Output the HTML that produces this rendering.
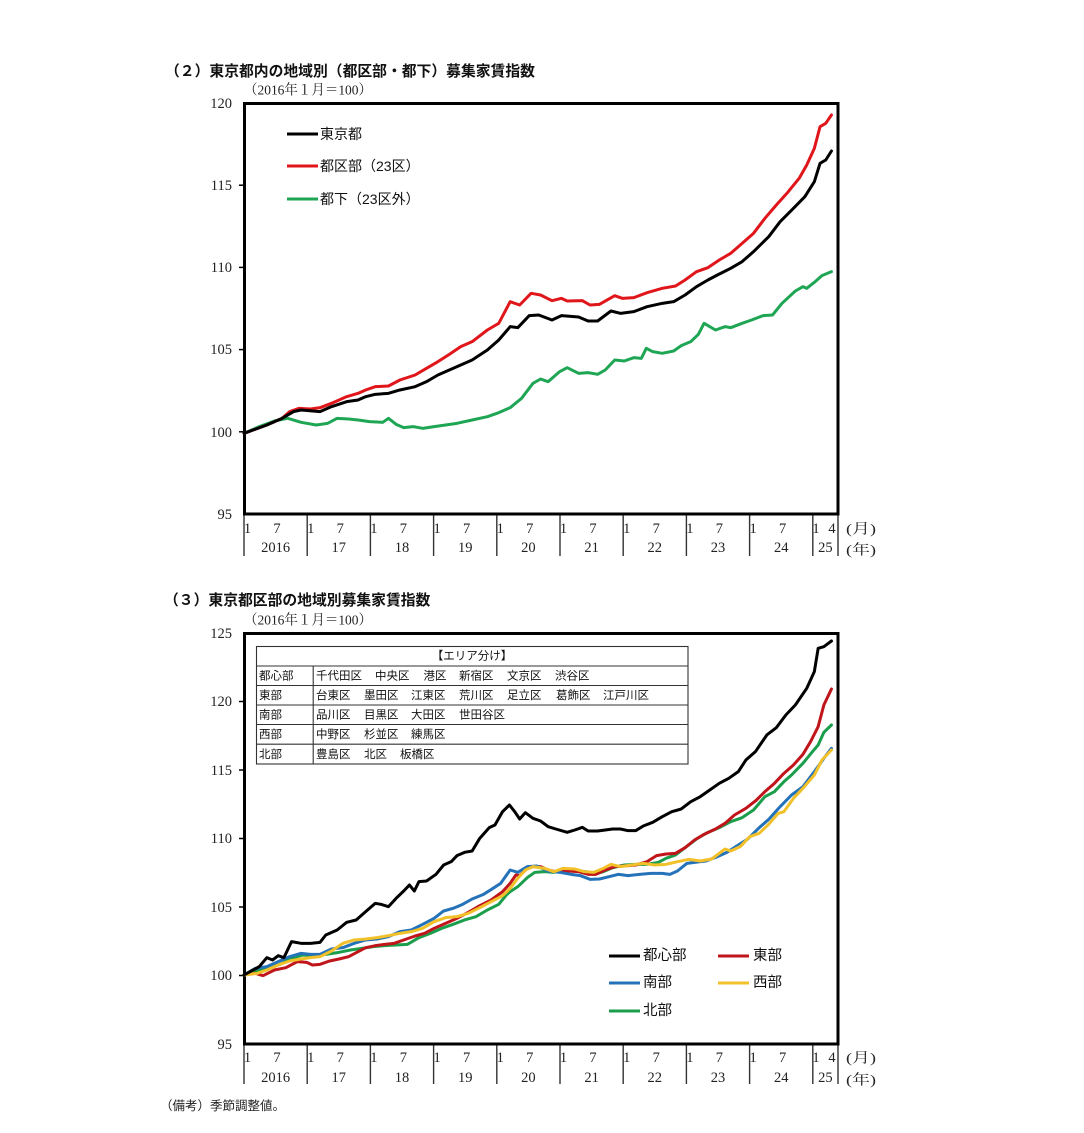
<!DOCTYPE html>
<html><head><meta charset="utf-8">
<style>
html,body{margin:0;padding:0;background:#fff;}
svg{display:block;}
.j{font-family:"Liberation Sans","Noto Sans CJK JP",sans-serif;}
.s{font-family:"Liberation Serif","Noto Serif CJK JP",serif;}
.n{font-family:"Liberation Serif","Noto Serif CJK JP",serif;font-size:14.5px;fill:#222;}
.t{font-family:"Liberation Sans","Noto Sans CJK JP",sans-serif;font-size:11.5px;fill:#111;}
</style></head>
<body>
<svg width="1084" height="1133" viewBox="0 0 1084 1133" xmlns="http://www.w3.org/2000/svg">
<rect width="1084" height="1133" fill="#fff"/>

<!-- ================= TOP CHART ================= -->
<text x="165" y="72" class="j" font-size="14.8" font-weight="bold" dominant-baseline="central" fill="#111">（２）東京都内の地域別（都区部・都下）募集家賃指数</text>
<text x="244" y="91" class="s" font-size="14" dominant-baseline="central" fill="#222" textLength="128" lengthAdjust="spacingAndGlyphs">（2016年１月＝100）</text>

<!-- y labels -->
<g class="n" text-anchor="end" dominant-baseline="central">
<text x="232" y="104">120</text>
<text x="232" y="186">115</text>
<text x="232" y="268">110</text>
<text x="232" y="350">105</text>
<text x="232" y="433">100</text>
<text x="232" y="515">95</text>
</g>
<g stroke="#000" stroke-width="1.5">
<line x1="239" y1="185.2" x2="246" y2="185.2"/>
<line x1="239" y1="267.4" x2="246" y2="267.4"/>
<line x1="239" y1="349.6" x2="246" y2="349.6"/>
<line x1="239" y1="431.8" x2="246" y2="431.8"/>
</g>

<!-- x dividers -->
<g stroke="#333" stroke-width="1.4">
<line x1="244" y1="514" x2="244" y2="556"/>
<line x1="307.2" y1="514" x2="307.2" y2="556"/>
<line x1="370.4" y1="514" x2="370.4" y2="556"/>
<line x1="433.6" y1="514" x2="433.6" y2="556"/>
<line x1="496.8" y1="514" x2="496.8" y2="556"/>
<line x1="560" y1="514" x2="560" y2="556"/>
<line x1="623.2" y1="514" x2="623.2" y2="556"/>
<line x1="686.4" y1="514" x2="686.4" y2="556"/>
<line x1="749.6" y1="514" x2="749.6" y2="556"/>
<line x1="812.8" y1="514" x2="812.8" y2="556"/>
<line x1="838" y1="514" x2="838" y2="556"/>
</g>
<g class="n" text-anchor="middle" dominant-baseline="central">
<text x="247.5" y="529">1</text><text x="277" y="529">7</text>
<text x="310.7" y="529">1</text><text x="340.2" y="529">7</text>
<text x="373.9" y="529">1</text><text x="403.4" y="529">7</text>
<text x="437.1" y="529">1</text><text x="466.6" y="529">7</text>
<text x="500.3" y="529">1</text><text x="529.8" y="529">7</text>
<text x="563.5" y="529">1</text><text x="593" y="529">7</text>
<text x="626.7" y="529">1</text><text x="656.2" y="529">7</text>
<text x="689.9" y="529">1</text><text x="719.4" y="529">7</text>
<text x="753.1" y="529">1</text><text x="782.6" y="529">7</text>
<text x="816" y="529">1</text><text x="832" y="529">4</text>
<text x="275.6" y="548">2016</text>
<text x="338.8" y="548">17</text>
<text x="402" y="548">18</text>
<text x="465.2" y="548">19</text>
<text x="528.4" y="548">20</text>
<text x="591.6" y="548">21</text>
<text x="654.8" y="548">22</text>
<text x="718" y="548">23</text>
<text x="781.2" y="548">24</text>
<text x="825.4" y="548">25</text>
</g>
<text x="846" y="530" class="s" font-size="14" dominant-baseline="central" fill="#222" textLength="30" lengthAdjust="spacingAndGlyphs">(月)</text>
<text x="846" y="551" class="s" font-size="14" dominant-baseline="central" fill="#222" textLength="30" lengthAdjust="spacingAndGlyphs">(年)</text>

<!-- frame -->
<rect x="244.5" y="103.5" width="593.5" height="410.5" fill="none" stroke="#000" stroke-width="3"/>

<!-- series top -->
<g transform="translate(244,105) scale(0.38023,0.33333)" fill="none" stroke-linejoin="round" stroke-linecap="round">
<polyline vector-effect="non-scaling-stroke" stroke="#1fa655" stroke-width="3" points="0,985 40,965 80,948 115,940 150,952 190,960 220,955 245,940 275,942 300,945 330,950 365,952 380,940 400,958 420,968 445,965 470,970 500,965 530,960 560,955 600,945 640,935 670,923 700,908 730,880 760,835 780,822 800,830 830,800 850,788 880,805 905,803 930,808 950,795 975,765 1000,768 1025,758 1045,760 1058,730 1075,740 1100,745 1130,738 1150,722 1175,710 1195,688 1210,655 1240,675 1265,665 1280,668 1310,655 1335,645 1365,632 1390,630 1415,595 1450,558 1470,545 1480,550 1500,532 1520,512 1545,500"/>
<polyline vector-effect="non-scaling-stroke" stroke="#e0161b" stroke-width="3" points="0,985 60,960 100,940 120,920 145,910 175,912 200,908 230,895 270,875 300,865 320,855 345,845 380,843 410,825 450,810 480,790 510,770 540,748 570,725 600,710 640,675 670,655 700,590 725,600 755,565 780,570 810,587 835,580 850,588 890,587 910,600 935,598 975,572 995,580 1025,578 1060,563 1100,550 1135,543 1160,525 1190,500 1220,488 1250,465 1280,445 1310,415 1340,385 1370,340 1400,300 1430,262 1460,220 1480,180 1500,130 1515,65 1530,55 1545,30"/>
<polyline vector-effect="non-scaling-stroke" stroke="#000" stroke-width="3" points="0,985 60,960 100,940 130,920 150,915 200,920 230,905 270,890 300,885 320,875 345,868 380,865 410,855 450,845 480,830 510,810 540,795 570,780 600,765 640,735 670,705 700,665 720,668 750,632 775,630 810,645 835,632 880,636 905,648 930,648 965,618 990,625 1025,620 1060,605 1100,595 1130,590 1160,570 1190,545 1220,525 1245,510 1280,490 1310,470 1340,440 1380,395 1410,350 1445,310 1475,275 1500,230 1515,175 1530,165 1545,138"/>
</g>

<!-- legend top -->
<g stroke-width="3">
<line x1="287" y1="134" x2="318" y2="134" stroke="#000"/>
<line x1="287" y1="166" x2="318" y2="166" stroke="#e0161b"/>
<line x1="287" y1="199" x2="318" y2="199" stroke="#1fa655"/>
</g>
<g class="j" font-size="14" fill="#111" dominant-baseline="central">
<text x="320" y="134">東京都</text>
<text x="320" y="166">都区部（23区）</text>
<text x="320" y="199">都下（23区外）</text>
</g>

<!-- ================= BOTTOM CHART ================= -->
<text x="164" y="601" class="j" font-size="14.8" font-weight="bold" dominant-baseline="central" fill="#111">（３）東京都区部の地域別募集家賃指数</text>
<text x="244" y="621" class="s" font-size="14" dominant-baseline="central" fill="#222" textLength="128" lengthAdjust="spacingAndGlyphs">（2016年１月＝100）</text>

<g class="n" text-anchor="end" dominant-baseline="central">
<text x="232" y="634">125</text>
<text x="232" y="702">120</text>
<text x="232" y="771">115</text>
<text x="232" y="839">110</text>
<text x="232" y="908">105</text>
<text x="232" y="976">100</text>
<text x="232" y="1045">95</text>
</g>
<g stroke="#000" stroke-width="1.5">
<line x1="239" y1="701.5" x2="246" y2="701.5"/>
<line x1="239" y1="770" x2="246" y2="770"/>
<line x1="239" y1="838.5" x2="246" y2="838.5"/>
<line x1="239" y1="907" x2="246" y2="907"/>
<line x1="239" y1="975.5" x2="246" y2="975.5"/>
</g>

<g stroke="#333" stroke-width="1.4">
<line x1="244" y1="1044" x2="244" y2="1084"/>
<line x1="307.2" y1="1044" x2="307.2" y2="1084"/>
<line x1="370.4" y1="1044" x2="370.4" y2="1084"/>
<line x1="433.6" y1="1044" x2="433.6" y2="1084"/>
<line x1="496.8" y1="1044" x2="496.8" y2="1084"/>
<line x1="560" y1="1044" x2="560" y2="1084"/>
<line x1="623.2" y1="1044" x2="623.2" y2="1084"/>
<line x1="686.4" y1="1044" x2="686.4" y2="1084"/>
<line x1="749.6" y1="1044" x2="749.6" y2="1084"/>
<line x1="812.8" y1="1044" x2="812.8" y2="1084"/>
<line x1="838" y1="1044" x2="838" y2="1084"/>
</g>
<g class="n" text-anchor="middle" dominant-baseline="central">
<text x="247.5" y="1058">1</text><text x="277" y="1058">7</text>
<text x="310.7" y="1058">1</text><text x="340.2" y="1058">7</text>
<text x="373.9" y="1058">1</text><text x="403.4" y="1058">7</text>
<text x="437.1" y="1058">1</text><text x="466.6" y="1058">7</text>
<text x="500.3" y="1058">1</text><text x="529.8" y="1058">7</text>
<text x="563.5" y="1058">1</text><text x="593" y="1058">7</text>
<text x="626.7" y="1058">1</text><text x="656.2" y="1058">7</text>
<text x="689.9" y="1058">1</text><text x="719.4" y="1058">7</text>
<text x="753.1" y="1058">1</text><text x="782.6" y="1058">7</text>
<text x="816" y="1058">1</text><text x="832" y="1058">4</text>
<text x="275.6" y="1078">2016</text>
<text x="338.8" y="1078">17</text>
<text x="402" y="1078">18</text>
<text x="465.2" y="1078">19</text>
<text x="528.4" y="1078">20</text>
<text x="591.6" y="1078">21</text>
<text x="654.8" y="1078">22</text>
<text x="718" y="1078">23</text>
<text x="781.2" y="1078">24</text>
<text x="825.4" y="1078">25</text>
</g>
<text x="846" y="1059" class="s" font-size="14" dominant-baseline="central" fill="#222" textLength="30" lengthAdjust="spacingAndGlyphs">(月)</text>
<text x="846" y="1081" class="s" font-size="14" dominant-baseline="central" fill="#222" textLength="30" lengthAdjust="spacingAndGlyphs">(年)</text>

<rect x="244.5" y="633.5" width="593.5" height="410.5" fill="none" stroke="#000" stroke-width="3"/>

<!-- area table -->
<g stroke="#333" stroke-width="1.1" fill="none">
<rect x="256.5" y="646.5" width="431.5" height="117.5"/>
<line x1="256.5" y1="666" x2="688" y2="666"/>
<line x1="256.5" y1="685.5" x2="688" y2="685.5"/>
<line x1="256.5" y1="705" x2="688" y2="705"/>
<line x1="256.5" y1="724.5" x2="688" y2="724.5"/>
<line x1="256.5" y1="744.2" x2="688" y2="744.2"/>
<line x1="313.2" y1="666" x2="313.2" y2="764"/>
</g>
<g class="t" dominant-baseline="central">
<text x="472" y="656.5" text-anchor="middle">【エリア分け】</text>
<text x="259" y="676.5">都心部</text>
<text x="259" y="696">東部</text>
<text x="259" y="715.5">南部</text>
<text x="259" y="735">西部</text>
<text x="259" y="755">北部</text>
<text x="316" y="676.5">千代田区</text><text x="375" y="676.5">中央区</text><text x="423.5" y="676.5">港区</text><text x="459" y="676.5">新宿区</text><text x="507" y="676.5">文京区</text><text x="555" y="676.5">渋谷区</text>
<text x="316" y="696">台東区</text><text x="364" y="696">墨田区</text><text x="411" y="696">江東区</text><text x="459" y="696">荒川区</text><text x="507" y="696">足立区</text><text x="556" y="696">葛飾区</text><text x="603" y="696">江戸川区</text>
<text x="316" y="715.5">品川区</text><text x="364" y="715.5">目黒区</text><text x="411" y="715.5">大田区</text><text x="459" y="715.5">世田谷区</text>
<text x="316" y="735">中野区</text><text x="364" y="735">杉並区</text><text x="411" y="735">練馬区</text>
<text x="316" y="755">豊島区</text><text x="364" y="755">北区</text><text x="400" y="755">板橋区</text>
</g>

<!-- series bottom -->
<g transform="translate(244,635) scale(0.38023,0.33333)" fill="none" stroke-linejoin="round" stroke-linecap="round">
<polyline vector-effect="non-scaling-stroke" stroke="#1b9e4b" stroke-width="3" points="0,1020 35,1008 65,995 95,988 125,970 155,960 185,962 215,958 250,952 280,945 310,940 340,935 370,932 400,930 430,928 460,908 490,895 520,880 550,868 580,855 610,845 640,825 670,808 690,780 700,770 720,755 745,728 765,712 790,710 815,712 840,700 870,708 900,710 920,718 945,710 970,698 1000,690 1030,688 1060,688 1090,682 1110,670 1135,660 1160,638 1190,612 1220,592 1250,578 1280,560 1310,548 1340,525 1370,485 1395,470 1420,440 1440,420 1470,385 1495,350 1510,330 1525,292 1545,270"/>
<polyline vector-effect="non-scaling-stroke" stroke="#c0151b" stroke-width="3" points="0,1020 30,1015 50,1022 80,1005 110,998 140,980 165,982 180,990 200,988 225,978 250,972 275,965 300,950 320,938 345,932 370,928 395,925 420,915 450,903 475,895 500,880 530,865 560,850 590,832 620,812 650,795 680,770 700,745 715,720 725,722 745,700 760,695 780,695 800,705 820,710 850,708 880,710 905,718 925,718 950,705 975,695 1000,693 1030,690 1060,680 1085,662 1110,657 1135,655 1160,638 1185,615 1210,598 1240,582 1265,565 1290,540 1320,520 1345,498 1370,470 1395,445 1420,415 1445,390 1470,358 1490,320 1510,275 1525,210 1545,162"/>
<polyline vector-effect="non-scaling-stroke" stroke="#2472b9" stroke-width="3" points="0,1020 30,1000 60,995 90,980 120,965 150,955 175,958 200,958 230,942 260,938 290,925 320,915 350,912 380,905 410,890 440,885 470,868 500,850 525,828 550,820 575,808 600,792 630,778 655,760 675,745 700,705 720,712 745,695 770,693 800,708 830,712 860,718 885,722 910,733 935,732 960,725 985,718 1010,722 1040,718 1070,715 1100,715 1120,718 1140,708 1165,685 1185,682 1215,678 1245,665 1270,652 1300,630 1325,612 1355,578 1380,553 1410,515 1440,480 1470,455 1500,410 1525,370 1545,340"/>
<polyline vector-effect="non-scaling-stroke" stroke="#f2c12a" stroke-width="3" points="0,1020 35,1015 60,1005 90,990 120,978 150,972 175,968 200,965 230,948 260,925 290,915 320,912 350,908 380,902 410,895 440,890 470,880 500,860 530,848 560,845 590,835 620,818 650,800 680,782 700,760 720,730 740,705 760,695 790,700 815,710 840,700 870,702 895,710 920,712 945,700 965,688 990,695 1020,690 1050,685 1080,690 1110,688 1140,680 1170,673 1200,678 1230,672 1250,655 1265,642 1280,648 1305,635 1330,605 1355,595 1380,568 1405,535 1420,530 1445,490 1470,460 1500,420 1520,375 1545,345"/>
<polyline vector-effect="non-scaling-stroke" stroke="#000" stroke-width="3" points="0,1020 40,995 60,968 75,975 90,962 105,968 125,920 150,925 175,925 200,922 215,900 245,885 270,862 295,855 320,830 345,805 360,808 380,815 400,790 420,768 435,750 448,768 460,740 480,738 505,718 525,690 545,680 560,662 580,652 600,648 620,610 645,578 660,570 680,530 698,510 712,530 725,552 740,533 760,550 780,558 800,575 820,582 850,592 870,585 890,577 905,588 930,588 950,585 970,582 990,582 1010,587 1030,587 1050,573 1075,562 1100,545 1125,530 1150,522 1175,500 1200,485 1225,465 1250,445 1275,430 1300,410 1320,375 1345,350 1375,300 1400,278 1425,240 1450,210 1480,160 1500,110 1510,40 1525,35 1545,18"/>
</g>

<!-- legend bottom -->
<g stroke-width="3">
<line x1="609" y1="956" x2="640" y2="956" stroke="#000"/>
<line x1="718" y1="956" x2="749" y2="956" stroke="#c0151b"/>
<line x1="609" y1="983" x2="640" y2="983" stroke="#2472b9"/>
<line x1="718" y1="983" x2="749" y2="983" stroke="#f2c12a"/>
<line x1="609" y1="1011" x2="640" y2="1011" stroke="#1b9e4b"/>
</g>
<g class="j" font-size="14.5" fill="#111" dominant-baseline="central">
<text x="643" y="956">都心部</text>
<text x="753" y="956">東部</text>
<text x="643" y="983">南部</text>
<text x="753" y="983">西部</text>
<text x="643" y="1011">北部</text>
</g>

<text x="160" y="1106" class="j" font-size="12.5" dominant-baseline="central" fill="#222">（備考）季節調整値。</text>
</svg>
</body></html>
